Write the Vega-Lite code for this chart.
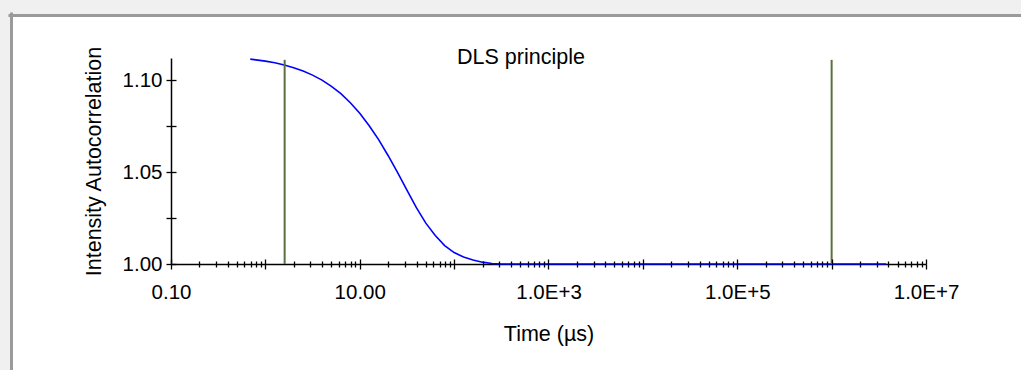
{
  "$schema": "https://vega.github.io/schema/vega-lite/v6.json",
  "width": 1010,
  "height": 355,
  "autosize": {"type": "none"},
  "padding": {"left": 11, "top": 15, "right": 0, "bottom": 0},
  "background": "#f0f0f0",
  "title": {
    "text": "DLS principle",
    "anchor": "middle",
    "frame": "group",
    "offset": -70,
    "baseline": "alphabetic",
    "dx": 5,
    "font": "Liberation Sans",
    "fontSize": 21.5,
    "fontWeight": "normal",
    "color": "#000000"
  },
  "config": {
    "view": {"fill": "#ffffff", "stroke": "transparent", "strokeWidth": 0},
    "axis": {
      "grid": false,
      "labelFont": "Liberation Sans",
      "titleFont": "Liberation Sans",
      "labelFontSize": 20.5,
      "titleFontSize": 21.5,
      "titleFontWeight": "normal",
      "labelColor": "#000000",
      "titleColor": "#000000",
      "tickColor": "#000000",
      "domainColor": "#000000",
      "tickWidth": 1.3,
      "domainWidth": 1.5,
      "labelOverlap": false,
      "labelFlush": false,
      "labelBound": false
    }
  },
  "layer": [
    {
      "data": {"values": [{"fx": 0, "fy": 0}]},
      "mark": {"type": "point", "opacity": 0},
      "encoding": {
        "x": {
          "field": "fx",
          "type": "quantitative",
          "scale": {"domain": [0, 1], "range": [-3, 1010], "nice": false, "zero": false},
          "axis": {
            "orient": "top",
            "offset": 0,
            "zindex": 0,
            "domainColor": "#9a9a9a",
            "domainWidth": 3,
            "ticks": false,
            "labels": false,
            "title": null
          }
        },
        "y": {
          "field": "fy",
          "type": "quantitative",
          "scale": {"domain": [0, 1], "range": [355, -3], "nice": false, "zero": false},
          "axis": {
            "orient": "left",
            "offset": 0,
            "zindex": 0,
            "domainColor": "#9a9a9a",
            "domainWidth": 3,
            "ticks": false,
            "labels": false,
            "title": null
          }
        }
      }
    },
    {
      "data": {
        "values": [
          {"t": 0.692, "g": 1.1114},
          {"t": 0.794, "g": 1.111},
          {"t": 1.0, "g": 1.1103},
          {"t": 1.259, "g": 1.1094},
          {"t": 1.585, "g": 1.1082},
          {"t": 1.995, "g": 1.1067},
          {"t": 2.512, "g": 1.1049},
          {"t": 3.162, "g": 1.1027},
          {"t": 3.981, "g": 1.1},
          {"t": 5.012, "g": 1.0966},
          {"t": 6.31, "g": 1.0926},
          {"t": 7.943, "g": 1.0877},
          {"t": 10, "g": 1.082},
          {"t": 12.59, "g": 1.0752},
          {"t": 15.85, "g": 1.0676},
          {"t": 19.95, "g": 1.059},
          {"t": 25.12, "g": 1.0498},
          {"t": 31.62, "g": 1.0402},
          {"t": 39.81, "g": 1.0306},
          {"t": 50.12, "g": 1.0222},
          {"t": 63.1, "g": 1.0155},
          {"t": 79.43, "g": 1.01},
          {"t": 100, "g": 1.0062},
          {"t": 125.9, "g": 1.0038},
          {"t": 158.5, "g": 1.0022},
          {"t": 199.5, "g": 1.001},
          {"t": 251.2, "g": 1.0003},
          {"t": 316.2, "g": 1.0},
          {"t": 1000, "g": 1.0},
          {"t": 10000, "g": 1.0},
          {"t": 100000, "g": 1.0},
          {"t": 1000000, "g": 1.0},
          {"t": 3800000, "g": 1.0}
        ]
      },
      "mark": {"type": "line", "color": "#0000ff", "strokeWidth": 1.6},
      "encoding": {
        "x": {
          "field": "t",
          "type": "quantitative",
          "scale": {"type": "log", "domain": [0.1, 10000000], "range": [160, 915], "nice": false},
          "axis": {
            "orient": "bottom",
            "offset": -106,
            "zindex": 0,
            "values": [0.1, 0.2, 0.3, 0.4, 0.5, 0.6, 0.7, 0.8, 0.9,
                       1, 2, 3, 4, 5, 6, 7, 8, 9,
                       10, 20, 30, 40, 50, 60, 70, 80, 90,
                       100, 200, 300, 400, 500, 600, 700, 800, 900,
                       1000, 2000, 3000, 4000, 5000, 6000, 7000, 8000, 9000,
                       10000, 20000, 30000, 40000, 50000, 60000, 70000, 80000, 90000,
                       100000, 200000, 300000, 400000, 500000, 600000, 700000, 800000, 900000,
                       1000000, 2000000, 3000000, 4000000, 5000000, 6000000, 7000000, 8000000, 9000000,
                       10000000],
            "tickSize": {"condition": {"test": "abs(log(datum.value)/LN10 - round(log(datum.value)/LN10)) < 0.001", "value": 5}, "value": 3},
            "labelPadding": 13,
            "labelExpr": "abs(log(datum.value)/LN10 - round(log(datum.value)/LN10)) < 0.001 && abs(round(log(datum.value)/LN10)) % 2 == 1 ? (datum.value < 100 ? format(datum.value, '.2f') : '1.0E+' + round(log(datum.value)/LN10)) : ''",
            "title": "Time (µs)",
            "titleBaseline": "alphabetic",
            "titlePadding": 38
          }
        },
        "y": {
          "field": "g",
          "type": "quantitative",
          "scale": {"domain": [1, 1.112], "range": [249, 43], "nice": false, "zero": false},
          "axis": {
            "orient": "left",
            "offset": -160,
            "values": [1, 1.025, 1.05, 1.075, 1.1],
            "tickSize": 5,
            "labelPadding": 4,
            "labelExpr": "abs(datum.value * 40 - round(datum.value * 40)) < 0.01 && round(datum.value * 40) % 2 == 0 ? format(datum.value, '.2f') : ''",
            "title": "Intensity Autocorrelation",
            "titleBaseline": "alphabetic",
            "titlePadding": 22
          }
        }
      }
    },
    {
      "data": {
        "values": [
          {"t": 1.6, "lo": 1.0, "hi": 1.111},
          {"t": 1000000, "lo": 1.0, "hi": 1.111}
        ]
      },
      "mark": {"type": "rule", "color": "#5b7040", "strokeWidth": 2},
      "encoding": {
        "x": {
          "field": "t",
          "type": "quantitative",
          "scale": {"type": "log", "domain": [0.1, 10000000], "range": [160, 915], "nice": false},
          "axis": {
            "orient": "bottom",
            "offset": -106,
            "zindex": 1,
            "domain": false,
            "labels": false,
            "title": null,
            "values": [0.1, 0.2, 0.3, 0.4, 0.5, 0.6, 0.7, 0.8, 0.9,
                       1, 2, 3, 4, 5, 6, 7, 8, 9,
                       10, 20, 30, 40, 50, 60, 70, 80, 90,
                       100, 200, 300, 400, 500, 600, 700, 800, 900,
                       1000, 2000, 3000, 4000, 5000, 6000, 7000, 8000, 9000,
                       10000, 20000, 30000, 40000, 50000, 60000, 70000, 80000, 90000,
                       100000, 200000, 300000, 400000, 500000, 600000, 700000, 800000, 900000,
                       1000000, 2000000, 3000000, 4000000, 5000000, 6000000, 7000000, 8000000, 9000000,
                       10000000],
            "tickSize": {"condition": {"test": "abs(log(datum.value)/LN10 - round(log(datum.value)/LN10)) < 0.001", "value": -5}, "value": -3}
          }
        },
        "y": {
          "field": "lo",
          "type": "quantitative",
          "scale": {"domain": [1, 1.112], "range": [249, 43], "nice": false, "zero": false},
          "axis": {
            "orient": "left",
            "offset": -160,
            "domain": false,
            "labels": false,
            "title": null,
            "values": [1, 1.025, 1.05, 1.075, 1.1],
            "tickSize": -5
          }
        },
        "y2": {"field": "hi"}
      }
    }
  ],
  "resolve": {
    "scale": {"x": "independent", "y": "independent"},
    "axis": {"x": "independent", "y": "independent"}
  }
}
